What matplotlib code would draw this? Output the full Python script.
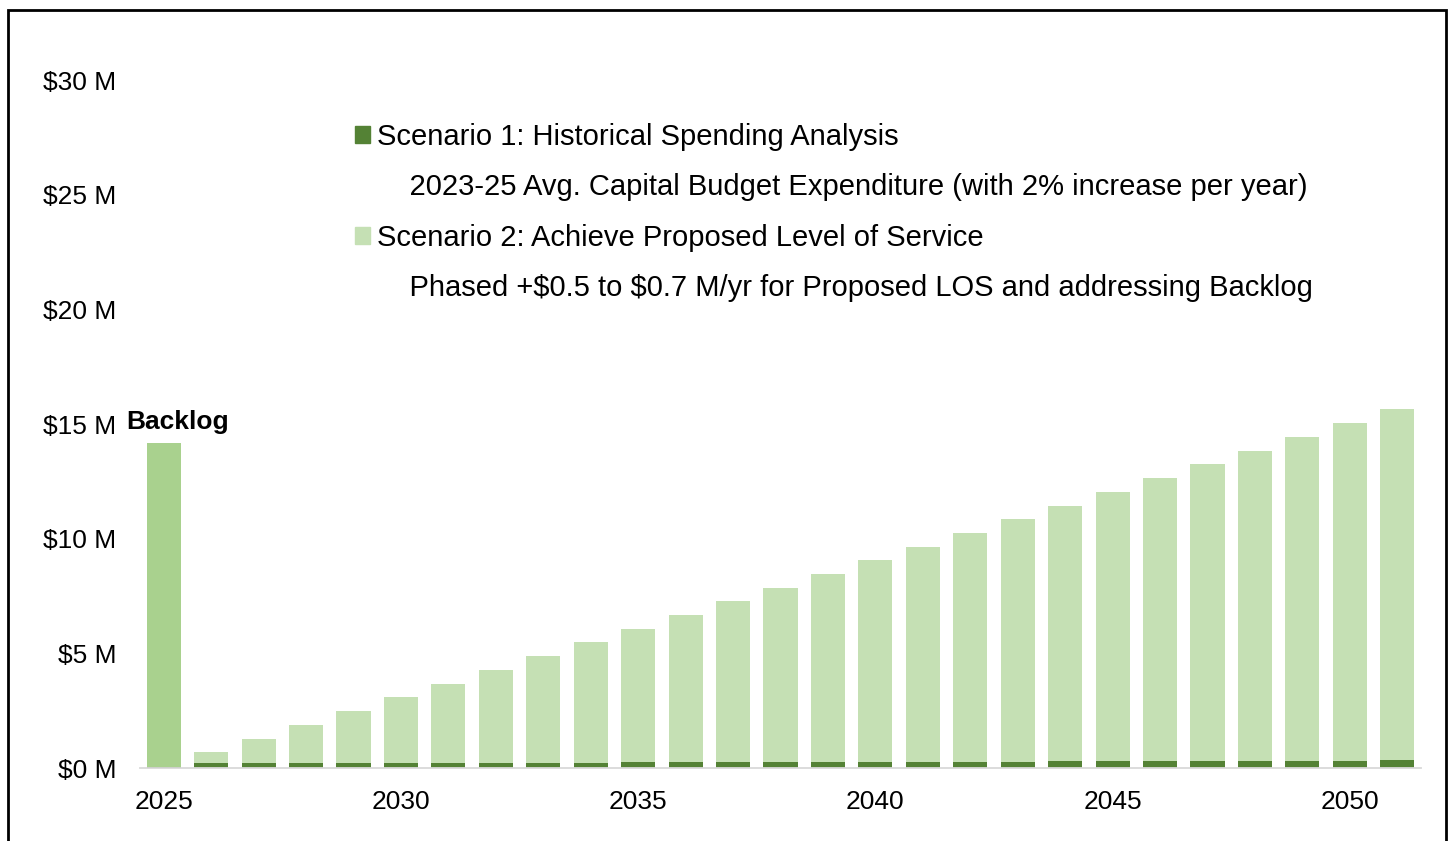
import numpy as np
import matplotlib.pyplot as plt
from matplotlib.patches import Patch, Rectangle

plt.rcParams['font.family'] = ['Liberation Sans', 'DejaVu Sans']

# data ($ M)
years = list(range(2025, 2052))
backlog = 14.17
scen1 = [0.03, 0.20, 0.20, 0.21, 0.21, 0.22, 0.22, 0.23, 0.23, 0.23, 0.24, 0.24, 0.25, 0.25,
         0.26, 0.27, 0.27, 0.28, 0.28, 0.29, 0.29, 0.30, 0.30, 0.31, 0.32, 0.32, 0.33]
scen2_total = [0.0, 0.70, 1.26, 1.88, 2.49, 3.10, 3.66, 4.27, 4.88, 5.50, 6.06, 6.67, 7.28, 7.85,
               8.46, 9.07, 9.64, 10.25, 10.86, 11.43, 12.04, 12.65, 13.26, 13.82, 14.44, 15.05, 15.66]
yticks = [0, 5, 10, 15, 20, 25, 30]
xticks = [2025, 2030, 2035, 2040, 2045, 2050]

dark = '#548235'
light = '#C5E0B4'
mid = '#A9D18E'

fig = plt.figure(figsize=(14.53, 8.41), dpi=100)
ax = fig.add_axes([140/1453, 1-768/841, (1421-140)/1453, (768-80)/841])

yrs = np.array(years)
s1 = np.array(scen1)
s2 = np.array(scen2_total)
w = 0.72
ax.bar(yrs[0], backlog, width=w, color=mid)
ax.bar(yrs[1:], s1[1:], width=w, color=dark)
ax.bar(yrs[0], s1[0], width=w, color=dark)
ax.bar(yrs[1:], s2[1:] - s1[1:], bottom=s1[1:], width=w, color=light)

ax.annotate('Backlog', (yrs[0], backlog), xytext=(10, 15), textcoords='offset points',
            ha='center', va='center', fontsize=19, fontweight='bold')

ax.set_xlim(2024.5, 2051.5)
ax.set_ylim(0, 30)
ax.set_yticks(yticks)
ax.set_yticklabels([f'\\${v} M' for v in yticks])
ax.set_xticks(xticks)
ax.tick_params(axis='both', length=0, labelsize=19)
ax.tick_params(axis='y', pad=17)
ax.tick_params(axis='x', pad=15.5)
for s in ['top', 'right', 'left']:
    ax.spines[s].set_visible(False)
ax.spines['bottom'].set_color('#D9D9D9')
ax.spines['bottom'].set_linewidth(1.3)

handles = [Patch(color=dark), Patch(color='none'), Patch(color=light), Patch(color='none')]
labels = ['Scenario 1: Historical Spending Analysis',
          '    2023-25 Avg. Capital Budget Expenditure (with 2% increase per year)',
          'Scenario 2: Achieve Proposed Level of Service',
          '    Phased +\\$0.5 to \\$0.7 M/yr for Proposed LOS and addressing Backlog']
fig.legend(handles, labels, loc='upper left', bbox_to_anchor=(355/1453, 1-123/841),
           frameon=False, fontsize=21, handlelength=0.52, handleheight=0.52,
           handletextpad=0.25, labelspacing=0.77, borderpad=0, borderaxespad=0)

fig.patches.append(Rectangle((8/1453, -0.1), (1446-8)/1453, 1.1-10/841, transform=fig.transFigure,
                             fill=False, edgecolor='black', linewidth=2))

fig.savefig('out.png', dpi=100)
